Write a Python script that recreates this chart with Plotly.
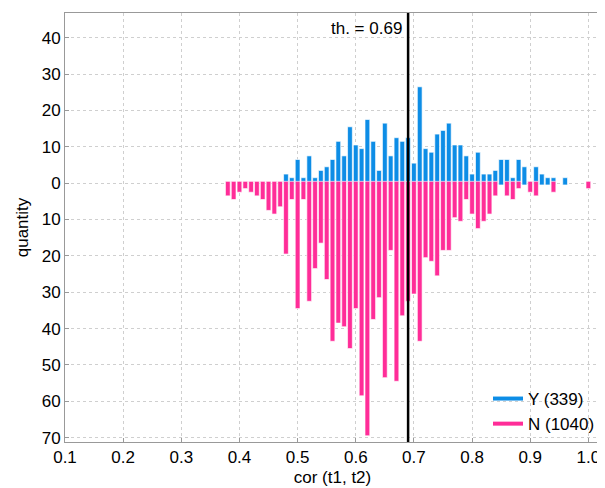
import plotly.graph_objects as go

# bin centres (cor values)
bins_y = [0.48, 0.49, 0.50, 0.51, 0.52, 0.53, 0.54, 0.55, 0.56, 0.57, 0.58, 0.59,
          0.60, 0.61, 0.62, 0.63, 0.64, 0.65, 0.66, 0.67, 0.68, 0.69, 0.70, 0.71,
          0.72, 0.73, 0.74, 0.75, 0.76, 0.77, 0.78, 0.79, 0.80, 0.81, 0.82, 0.83,
          0.84, 0.85, 0.86, 0.87, 0.88, 0.89, 0.91, 0.92, 0.93, 0.94, 0.96]
counts_y = [3, 2, 7, 2, 8, 2, 4, 5, 7, 12, 8, 16,
            11, 10, 18, 12, 4, 17, 8, 13, 12, 13, 6, 27,
            10, 9, 14, 15, 17, 11, 11, 8, 3, 9, 3, 3,
            4, 7, 7, 2, 7, 5, 5, 3, 2, 2, 2]

bins_n = [0.38, 0.39, 0.40, 0.41, 0.42, 0.43, 0.44, 0.45, 0.46, 0.47, 0.48, 0.49,
          0.50, 0.51, 0.52, 0.53, 0.54, 0.55, 0.56, 0.57, 0.58, 0.59, 0.60, 0.61,
          0.62, 0.63, 0.64, 0.65, 0.66, 0.67, 0.68, 0.69, 0.70, 0.71, 0.72, 0.73,
          0.74, 0.75, 0.76, 0.77, 0.78, 0.79, 0.80, 0.81, 0.82, 0.83, 0.84, 0.86,
          0.87, 0.88, 0.90, 0.91, 0.94, 1.00]
counts_n = [4, 5, 3, 2, 3, 4, 5, 8, 9, 7, 20, 5,
            35, 5, 33, 24, 17, 27, 44, 39, 40, 46, 35, 59,
            70, 38, 32, 54, 19, 55, 37, 33, 31, 44, 21, 22,
            26, 19, 19, 10, 11, 5, 9, 13, 11, 9, 4, 4,
            5, 2, 3, 4, 3, 2]

threshold = 0.69
label_y = "Y (339)"
label_n = "N (1040)"

x_ticks = [0.1, 0.2, 0.3, 0.4, 0.5, 0.6, 0.7, 0.8, 0.9, 1.0]
x_ticktext = ["0.1", "0.2", "0.3", "0.4", "0.5", "0.6", "0.7", "0.8", "0.9", "1.0"]
y_ticks = [40, 30, 20, 10, 0, -10, -20, -30, -40, -50, -60, -70]
y_ticktext = [str(abs(v)) for v in y_ticks]

BLUE = "#0d8de6"
PINK = "#ff2d98"
FONT = "Liberation Sans, Arial, Helvetica, sans-serif"

fig = go.Figure()
fig.add_trace(go.Bar(
    x=bins_y, y=counts_y, base=-0.5, width=0.0082,
    marker=dict(color=BLUE, line=dict(color="rgba(255,255,255,0.8)", width=0.8)),
    showlegend=False, hoverinfo="skip"))
fig.add_trace(go.Bar(
    x=bins_n, y=[-c for c in counts_n], base=0.5, width=0.0082,
    marker=dict(color=PINK, line=dict(color="rgba(255,255,255,0.8)", width=0.8)),
    showlegend=False, hoverinfo="skip"))

# legend entries drawn as lines
fig.add_trace(go.Scatter(x=[None], y=[None], mode="lines", name=label_y,
                         line=dict(color=BLUE, width=4)))
fig.add_trace(go.Scatter(x=[None], y=[None], mode="lines", name=label_n,
                         line=dict(color=PINK, width=4)))

fig.add_shape(type="line", x0=threshold, x1=threshold, y0=0, y1=1,
              xref="x", yref="paper", line=dict(color="black", width=2.5))
fig.add_annotation(x=threshold, y=0.965, xref="x", yref="paper",
                   text="th. = %.2f" % threshold, showarrow=False,
                   xanchor="right", yanchor="middle", xshift=-4,
                   font=dict(size=17, color="black", family=FONT))

axis_common = dict(showline=True, linecolor="#999999", linewidth=1, mirror=True,
                   showgrid=True, gridcolor="#cfcfcf", griddash="dot", gridwidth=1,
                   ticks="inside", ticklen=4, tickcolor="#999999",
                   tickfont=dict(size=17, color="black", family=FONT),
                   zeroline=False)

fig.update_layout(
    width=605, height=488,
    margin=dict(l=57, r=13, t=5, b=54),
    plot_bgcolor="white", paper_bgcolor="white",
    barmode="overlay",
    font=dict(family=FONT, color="black"),
    xaxis=dict(range=[0.1, 1.02], tickvals=x_ticks, ticktext=x_ticktext,
               title=dict(text="cor (t1, t2)", font=dict(size=17), standoff=4),
               **axis_common),
    yaxis=dict(range=[-71.2, 46.8], tickvals=y_ticks, ticktext=y_ticktext,
               title=dict(text="quantity", font=dict(size=17), standoff=8),
               **axis_common),
    legend=dict(x=1.0, y=0.0, xanchor="right", yanchor="bottom",
                bgcolor="rgba(0,0,0,0)", font=dict(size=17, family=FONT),
                itemwidth=30, tracegroupgap=0),
)

fig.write_html("out.html")
